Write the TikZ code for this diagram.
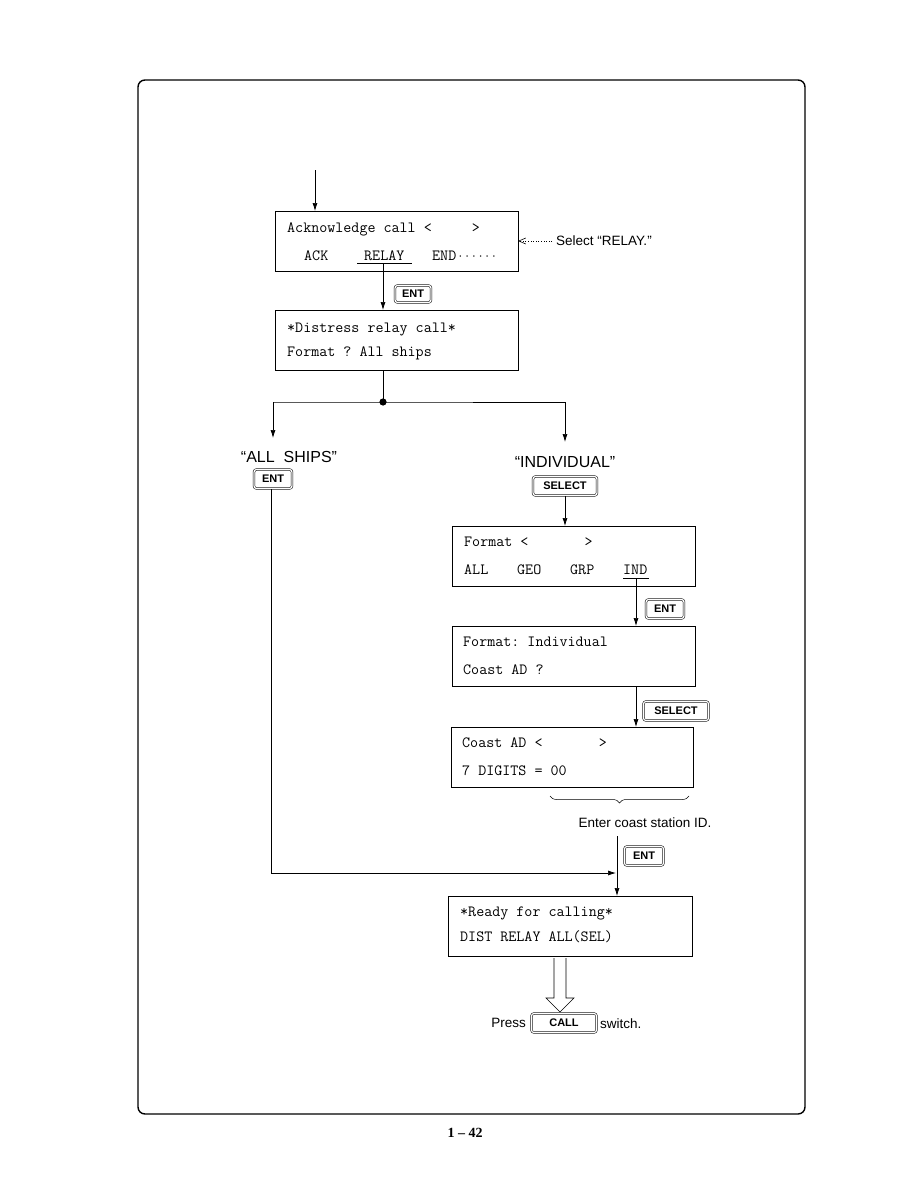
\documentclass[tikz,border=0pt]{standalone}
\usepackage{fontspec}
\setmainfont{Liberation Sans}
\setsansfont{Liberation Sans}
\newfontfamily\pgfont{Liberation Serif}
\usetikzlibrary{arrows.meta,decorations.pathreplacing}
\begin{document}
\begin{tikzpicture}[x=1pt,y=-1pt,
  lcd/.style={draw,line width=0.8pt,minimum width=243pt,minimum height=60pt,anchor=north west,inner sep=0pt},
  lcdtxt/.style={anchor=base west,inner sep=0pt,font=\ttfamily\frenchspacing\fontsize{15.6}{18}\selectfont},
  kbtn/.style={draw,line width=0.5pt,double,double distance=1.3pt,rounded corners=2.5pt,inner sep=0pt,font=\sffamily\bfseries\fontsize{11}{13}\selectfont},
  lbl/.style={inner sep=0pt,font=\fontsize{13.5}{16}\selectfont},
  bigq/.style={inner sep=0pt,font=\fontsize{16}{19}\selectfont},
  flow/.style={line width=0.7pt,-{Latex[length=8pt,width=5pt]}},
  plain/.style={line width=0.7pt}
]
\useasboundingbox (0,0) rectangle (918,1188);
% frame
\draw[line width=1.4pt,rounded corners=7pt] (138,80) rectangle (805,1114);
\node[inner sep=0pt,font=\pgfont\bfseries\fontsize{14}{16}\selectfont] (pg) at (465,1133) {1 – 42};

% entry arrow
\coordinate (start) at (315,170);

% box 1
\node[lcd] (b1) at (275,211) {};
\node[lcdtxt] (b1a) at (287,232) {Acknowledge call <~~~~~>};
\node[lcdtxt] (b1b1) at (304,260) {ACK};
\node[lcdtxt] (b1b2) at (364,260) {RELAY};
\node[lcdtxt] (b1b3) at (432,260) {END};
\node[anchor=base west,inner sep=0pt,font=\ttfamily\fontsize{13}{15}\selectfont] (b1dots) at (457,260) {······};
\coordinate (ul1a) at (357,263);
\coordinate (ul1b) at (412,263);
\draw[plain] (ul1a) -- (ul1b);
\coordinate (ul1m) at (383,263);
\draw[flow] (start) -- (315,211);
\node[lbl,anchor=west] (sel) at (556,241) {Select “RELAY.”};
\coordinate (selend) at (552,241);
\draw[line width=0.6pt,dotted,-{Straight Barb[length=7pt,width=6pt]}] (selend) -- (518,241);

% ENT key 1
\node[kbtn,minimum width=36pt,minimum height=17pt] (ent1) at (413,294) {ENT};

% box 2
\node[lcd] (b2) at (275,310) {};
\node[lcdtxt] (b2a) at (287,332) {*Distress relay call*};
\node[lcdtxt] (b2b) at (287,356) {Format ? All ships};
\draw[flow] (ul1m) -- (b2.north -| ul1m);

% branch
\coordinate (b2bot) at (383,371);
\fill (383,402) circle (3.6pt) coordinate (dot);
\draw[plain] (b2bot) -- (dot);
\coordinate (lbr) at (273,402);
\coordinate (rbr) at (565,402);
\draw[plain] (lbr) -- (dot) -- (rbr);
\coordinate (lend) at (273,438);
\coordinate (rend) at (565,442);
\draw[flow] (lbr) -- (lend);
\draw[flow] (rbr) -- (rend);

\node[bigq] (allships) at (289,457) {“ALL\ \ SHIPS”};
\node[kbtn,minimum width=38pt,minimum height=19pt] (ent2) at (273,479) {ENT};
\node[bigq] (indiv) at (565,462) {“INDIVIDUAL”};
\node[kbtn,minimum width=64pt,minimum height=19pt] (sel1) at (565,486) {SELECT};

% box 3
\node[lcd] (b3) at (452,526) {};
\node[lcdtxt] (b3a) at (464,546) {Format <~~~~~~~>};
\node[lcdtxt] (b3b1) at (464,574) {ALL};
\node[lcdtxt] (b3b2) at (517,574) {GEO};
\node[lcdtxt] (b3b3) at (570,574) {GRP};
\node[lcdtxt] (b3b4) at (623,574) {IND};
\draw[flow] (sel1.south) -- (b3.north -| sel1.south);
\coordinate (ul3a) at (623,578);
\coordinate (ul3b) at (649,578);
\draw[plain] (ul3a) -- (ul3b);
\coordinate (ul3m) at (636,578);

\node[kbtn,minimum width=38pt,minimum height=19pt] (ent3) at (665,609) {ENT};

% box 4
\node[lcd] (b4) at (452,626) {};
\node[lcdtxt] (b4a) at (463,646) {Format: Individual};
\node[lcdtxt] (b4b) at (463,674) {Coast AD ?};
\draw[flow] (ul3m) -- (b4.north -| ul3m);

\node[kbtn,minimum width=65pt,minimum height=19pt] (sel2) at (676,711) {SELECT};

% box 5
\node[lcd,minimum width=242pt] (b5) at (451,727) {};
\node[lcdtxt] (b5a) at (462,747) {Coast AD <~~~~~~~>};
\node[lcdtxt] (b5b) at (462,775) {7 DIGITS = 00};
\coordinate (b4out) at (636,686);
\draw[flow] (b4out) -- (b5.north -| b4out);

% brace
\draw[line width=0.5pt,decorate,decoration={brace,mirror,amplitude=7pt}] (550,796) -- (689,796);
\node[lbl] (enterid) at (645,823) {Enter coast station ID.};

% final
\node[kbtn,minimum width=39pt,minimum height=19pt] (ent4) at (644,856) {ENT};
\node[lcd,minimum width=244pt] (b6) at (448,896) {};
\node[lcdtxt] (b6a) at (460,916) {*Ready for calling*};
\node[lcdtxt] (b6b) at (460,941) {DIST RELAY ALL(SEL)};
\coordinate (idout) at (617,836);
\draw[flow] (idout) -- (b6.north -| idout);
\coordinate (lcorner) at (271,873);
\coordinate (mergept) at (616,873);
\draw[plain] (ent2.south -| lcorner) -- (lcorner);
\draw[flow] (lcorner) -- (mergept);

% hollow arrow
\draw[line width=0.6pt] (554,958) -- (554,998) -- (546,998) -- (560,1012) -- (574,998) -- (566,998) -- (566,958);

\node[lbl,anchor=east] (press) at (526,1023) {Press};
\node[kbtn,minimum width=65pt,minimum height=19pt] (callk) at (564,1023) {CALL};
\node[lbl,anchor=west] (switch) at (600,1024) {switch.};
\end{tikzpicture}
\end{document}
